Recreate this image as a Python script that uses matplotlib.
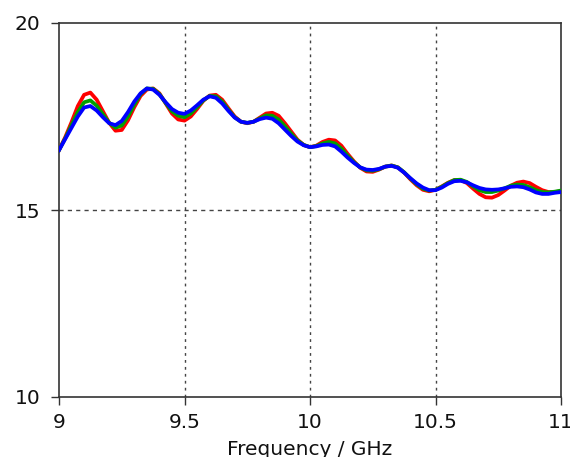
import numpy as np
import matplotlib
matplotlib.use("Agg")
import matplotlib.pyplot as plt

freq = [9.000, 9.025, 9.050, 9.075, 9.100, 9.125, 9.150, 9.175, 9.200, 9.225,
        9.250, 9.275, 9.300, 9.325, 9.350, 9.375, 9.400, 9.425, 9.450, 9.475,
        9.500, 9.525, 9.550, 9.575, 9.600, 9.625, 9.650, 9.675, 9.700, 9.725,
        9.750, 9.775, 9.800, 9.825, 9.850, 9.875, 9.900, 9.925, 9.950, 9.975,
        10.000, 10.025, 10.050, 10.075, 10.100, 10.125, 10.150, 10.175, 10.200, 10.225,
        10.250, 10.275, 10.300, 10.325, 10.350, 10.375, 10.400, 10.425, 10.450, 10.475,
        10.500, 10.525, 10.550, 10.575, 10.600, 10.625, 10.650, 10.675, 10.700, 10.725,
        10.750, 10.775, 10.800, 10.825, 10.850, 10.875, 10.900, 10.925, 10.950, 10.975,
        11.000]

red = [16.60, 16.95, 17.35, 17.78, 18.08, 18.14, 17.95, 17.64, 17.33, 17.12,
       17.14, 17.40, 17.75, 18.05, 18.22, 18.25, 18.12, 17.85, 17.58, 17.42,
       17.39, 17.50, 17.70, 17.92, 18.06, 18.08, 17.95, 17.72, 17.50, 17.36,
       17.32, 17.36, 17.47, 17.58, 17.60, 17.52, 17.32, 17.10, 16.88, 16.74,
       16.68, 16.72, 16.82, 16.88, 16.86, 16.72, 16.50, 16.30, 16.13, 16.03,
       16.02, 16.08, 16.16, 16.19, 16.14, 16.00, 15.82, 15.66, 15.54, 15.50,
       15.54, 15.63, 15.73, 15.80, 15.80, 15.72, 15.57, 15.43, 15.34, 15.33,
       15.40, 15.52, 15.65, 15.73, 15.76, 15.72, 15.62, 15.53, 15.48, 15.48,
       15.50]

green = [16.60, 16.92, 17.27, 17.62, 17.88, 17.93, 17.79, 17.56, 17.33, 17.20,
         17.26, 17.50, 17.82, 18.10, 18.25, 18.24, 18.10, 17.86, 17.64, 17.52,
         17.48, 17.58, 17.75, 17.93, 18.05, 18.04, 17.90, 17.68, 17.48, 17.36,
         17.33, 17.36, 17.45, 17.53, 17.52, 17.42, 17.24, 17.04, 16.86, 16.74,
         16.68, 16.71, 16.78, 16.82, 16.78, 16.64, 16.45, 16.28, 16.14, 16.06,
         16.05, 16.09, 16.16, 16.19, 16.14, 16.01, 15.84, 15.69, 15.57, 15.52,
         15.54, 15.62, 15.72, 15.80, 15.81, 15.75, 15.63, 15.53, 15.48, 15.48,
         15.52, 15.58, 15.65, 15.68, 15.67, 15.61, 15.53, 15.48, 15.47, 15.49,
         15.52]

blue = [16.60, 16.90, 17.20, 17.50, 17.74, 17.78, 17.66, 17.48, 17.32, 17.27,
        17.38, 17.62, 17.90, 18.12, 18.25, 18.22, 18.08, 17.88, 17.70, 17.60,
        17.57, 17.66, 17.80, 17.95, 18.04, 18.00, 17.85, 17.65, 17.47, 17.36,
        17.33, 17.36, 17.43, 17.47, 17.44, 17.32, 17.15, 16.98, 16.83, 16.73,
        16.68, 16.70, 16.74, 16.75, 16.70, 16.56, 16.40, 16.26, 16.14, 16.08,
        16.07, 16.10, 16.16, 16.18, 16.13, 16.00, 15.85, 15.71, 15.60, 15.53,
        15.53, 15.60, 15.70, 15.77, 15.78, 15.74, 15.66, 15.59, 15.55, 15.54,
        15.55, 15.58, 15.62, 15.63, 15.61, 15.55, 15.47, 15.43, 15.43, 15.46,
        15.48]

xticks = [9, 9.5, 10, 10.5, 11]
xticklabels = ["9", "9.5", "10", "10.5", "11"]
yticks = [10, 15, 20]
yticklabels = ["10", "15", "20"]
xlabel = "Frequency / GHz"

plt.rcParams['font.family'] = ['DejaVu Sans']
fig = plt.figure(figsize=(5.70, 4.57), dpi=100)
L, R, T, B = 59, 561, 23, 397
ax = fig.add_axes([L/570, 1-B/457, (R-L)/570, (B-T)/457])

for xv in [9.5, 10, 10.5]:
    ax.axvline(xv, color='#444444', lw=1.0, ls=(0, (2, 3)), zorder=1)
ax.axhline(15, color='#444444', lw=1.0, ls=(0, (3, 3)), zorder=1)

ax.plot(freq, red, color='#ff0000', lw=2.7, zorder=3)
ax.plot(freq, green, color='#00a000', lw=2.7, zorder=4)
ax.plot(freq, blue, color='#0000ff', lw=2.7, zorder=5)

ax.set_xlim(9, 11)
ax.set_ylim(10, 20)
ax.set_xticks(xticks)
ax.set_xticklabels(xticklabels)
ax.set_yticks(yticks)
ax.set_yticklabels(yticklabels)
ax.tick_params(axis='both', direction='out', length=5.5, width=1, labelsize=14.5,
               color='#333333', labelcolor='#111111')
ax.tick_params(axis='x', pad=6)
ax.tick_params(axis='y', pad=8)
for s in ax.spines.values():
    s.set_color('#333333')
    s.set_linewidth(1.2)
ax.set_xlabel(xlabel, fontsize=14.5, labelpad=6, color='#111111')

fig.savefig("out.png", dpi=100)
